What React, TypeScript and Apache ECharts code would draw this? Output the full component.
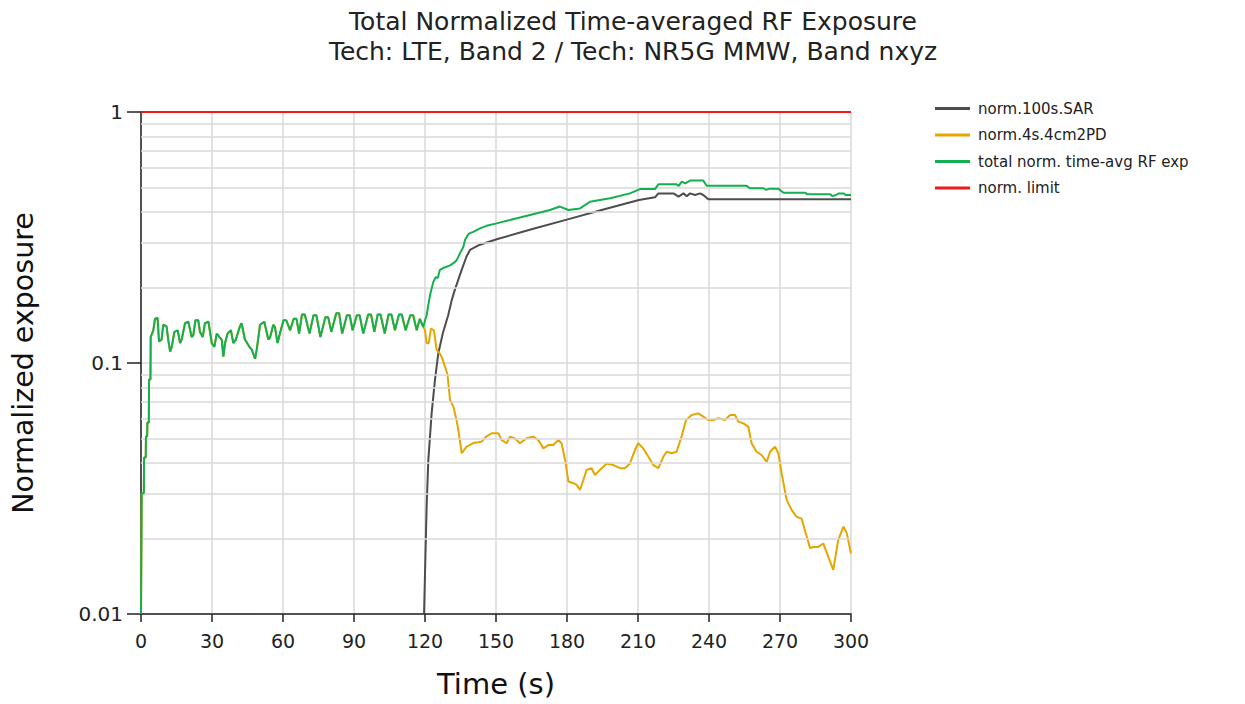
import React, { useEffect, useRef } from "react";
import * as echarts from "echarts";

const chartTitle =
  "Total Normalized Time-averaged RF Exposure\nTech: LTE, Band 2 / Tech: NR5G MMW, Band nxyz";
const xAxisTitle = "Time (s)";
const yAxisTitle = "Normalized exposure";
const seriesNames = [
  "norm.100s.SAR",
  "norm.4s.4cm2PD",
  "total norm. time-avg RF exp",
  "norm. limit",
];
const seriesColors = ["#4d4d4d", "#e5a600", "#12b04e", "#f01818"];

// norm.4s.4cm2PD
const pdTime = [
  0, 0.3, 1.2, 1.3, 2.0, 2.1, 2.6, 2.7, 3.3, 3.4, 4.0, 4.1, 5.2, 5.9, 7.0, 7.6, 8.7, 9.4, 10.8, 11.5,
  12.3, 13.0, 14.1, 15.5, 16.5, 17.2, 18.6, 20.0, 21.4, 22.1, 23.0, 24.2, 24.9, 26.1, 27.0, 28.5,
  29.9, 31.0, 32.0, 33.1, 34.1, 34.8, 35.5, 36.6, 38.0, 39.0, 40.1, 41.8, 42.5, 43.9, 45.8, 46.8,
  48.2, 48.9, 50.3, 52.1, 53.8, 54.5, 55.9, 56.6, 57.7, 58.7,
  60.2, 61.4, 63.0, 64.5, 65.7, 66.8, 68.0, 69.2, 71.2, 72.9, 74.1, 75.8, 77.9, 79.1, 80.4, 82.5,
  83.7, 85.0, 87.0, 88.2, 89.4, 91.2, 92.4, 93.9, 96.0, 97.2, 98.6, 100.0, 101.2, 103.0, 104.6,
  105.8, 107.3, 109.0, 110.2, 111.8, 113.8, 115.0, 116.5, 117.8, 119.3,
  120.0, 120.7, 121.6, 122.5, 123.8, 124.9, 126.3, 127.2, 128.4, 129.5, 130.6, 132.0, 133.2, 134.1,
  135.5, 137.6, 140.4, 143.9, 146.0, 148.2, 151.0, 152.4, 154.5, 155.9, 158.0, 160.1, 162.9, 165.8,
  167.9, 170.0, 172.1, 174.2, 176.3, 177.7, 179.2, 180.6, 182.7, 184.1, 185.5, 186.9, 188.3, 190.4,
  191.8, 193.9, 196.8, 199.6, 202.4, 204.5, 206.6, 208.7, 210.1, 212.2, 214.4, 216.5, 218.6, 220.7,
  222.1, 224.2, 226.3, 228.4, 230.3, 232.7, 235.5, 237.6, 239.7, 241.8, 244.0, 246.8, 248.9, 251.0,
  252.4, 254.5, 256.6, 258.0, 260.1, 262.2, 264.4, 265.8, 267.9, 269.3, 270.7, 272.8, 274.9, 277.0,
  279.1, 280.5, 282.7, 284.1, 286.2, 288.3, 290.4, 292.5, 294.6, 296.8, 298.2, 300,
];
const pdValue = [
  0.01, 0.0303, 0.0303, 0.042, 0.042, 0.051, 0.051, 0.058, 0.058, 0.086, 0.086, 0.127, 0.135, 0.15,
  0.151, 0.122, 0.124, 0.142, 0.14, 0.124, 0.111, 0.116, 0.133, 0.135, 0.12, 0.124, 0.144, 0.146,
  0.127, 0.129, 0.148, 0.148, 0.133, 0.127, 0.144, 0.146, 0.12, 0.116, 0.131, 0.127, 0.124, 0.106,
  0.12, 0.131, 0.135, 0.12, 0.124, 0.14, 0.144, 0.124, 0.116, 0.113, 0.104, 0.113, 0.142, 0.146,
  0.124, 0.126, 0.142, 0.139, 0.12, 0.131,
  0.148, 0.148, 0.135, 0.15, 0.15, 0.131, 0.156, 0.156, 0.131, 0.155, 0.155, 0.127, 0.152, 0.152,
  0.133, 0.158, 0.158, 0.131, 0.155, 0.155, 0.135, 0.155, 0.155, 0.131, 0.156, 0.156, 0.133, 0.156,
  0.156, 0.131, 0.156, 0.156, 0.135, 0.156, 0.156, 0.135, 0.155, 0.155, 0.135, 0.15, 0.139,
  0.135, 0.12, 0.12, 0.137, 0.135, 0.113, 0.109, 0.105, 0.097, 0.09, 0.071, 0.067, 0.06, 0.054,
  0.0437, 0.0464, 0.048, 0.0486, 0.051, 0.0525, 0.0525, 0.0493, 0.0479, 0.0509, 0.0501, 0.0479,
  0.0501, 0.0509, 0.0493, 0.0457, 0.0471, 0.0471, 0.0493, 0.0479, 0.0411, 0.0337, 0.0332, 0.0327,
  0.0312, 0.0342, 0.0375, 0.0381, 0.0358, 0.0375, 0.0398, 0.0392, 0.0381, 0.0381, 0.0398, 0.045,
  0.0479, 0.0457, 0.0423, 0.0392, 0.0381, 0.0423, 0.0443, 0.0437, 0.0443, 0.0509, 0.0593, 0.0621,
  0.063, 0.0611, 0.0593, 0.0593, 0.0602, 0.0593, 0.0621, 0.0621, 0.0584, 0.0575, 0.0558, 0.0479,
  0.0443, 0.043, 0.0404, 0.0443, 0.0464, 0.0437, 0.0363, 0.0285, 0.026, 0.0244, 0.024, 0.0216,
  0.0183, 0.0185, 0.0185, 0.0191, 0.0169, 0.015, 0.0197, 0.0223, 0.021, 0.0174,
];

// norm.100s.SAR
const sarTime = [
  119.6, 120.0, 120.7, 121.4, 122.8, 124.2, 125.6, 127.5, 129.8, 131.3, 132.7, 135.5, 137.5, 139.0,
  143.2, 150.3, 165.0, 180.3, 195.0, 210.4, 217.2, 218.6, 225.0, 227.1, 229.2, 230.6, 232.0, 234.1,
  236.2, 237.6, 239.7, 300,
];
const sarValue = [
  0.01, 0.0145, 0.027, 0.041, 0.063, 0.0855, 0.109, 0.131, 0.155, 0.178, 0.197, 0.235, 0.265, 0.282,
  0.296, 0.311, 0.341, 0.3735, 0.408, 0.446, 0.457, 0.474, 0.474, 0.46, 0.474, 0.462, 0.474, 0.467,
  0.474, 0.467, 0.449, 0.449,
];

// total norm. time-avg RF exp (after the SAR starts; before that it follows the PD trace)
const totalTime = [
  119.3, 120.0, 120.7, 121.4, 122.1, 123.5, 124.5, 125.4, 126.3, 127.7, 130.6, 132.7, 133.4, 134.8,
  136.2, 136.9, 138.3, 139.0, 140.4, 143.2, 146.0, 150.3, 155.9, 164.4, 172.8, 177.0, 180.6, 185.5,
  189.7, 198.2, 206.6, 210.8, 217.2, 218.6, 226.3, 227.2, 228.5, 230.0, 232.0, 237.6, 239.0, 255.9,
  257.3, 263.0, 264.0, 265.5, 269.4, 271.5, 280.7, 281.4, 291.3, 292.0, 293.5, 294.8, 297.0, 297.7,
  300,
];
const totalValue = [
  0.139, 0.148, 0.155, 0.17, 0.186, 0.21, 0.22, 0.218, 0.235, 0.239, 0.245, 0.253, 0.257, 0.274,
  0.29, 0.309, 0.326, 0.329, 0.333, 0.344, 0.352, 0.36, 0.371, 0.389, 0.407, 0.42, 0.407, 0.413,
  0.439, 0.453, 0.474, 0.493, 0.493, 0.515, 0.515, 0.508, 0.528, 0.52, 0.533, 0.533, 0.508, 0.508,
  0.497, 0.497, 0.49, 0.494, 0.494, 0.477, 0.477, 0.47, 0.47, 0.463, 0.466, 0.474, 0.474, 0.467,
  0.467,
];

// norm. limit
const limitTime = [0, 300];
const limitValue = [1, 1];

// minor log grid lines
const minorGridValues = [
  0.02, 0.03, 0.04, 0.05, 0.06, 0.07, 0.08, 0.09, 0.2, 0.3, 0.4, 0.5, 0.6, 0.7, 0.8, 0.9,
];

const FONT = "DejaVu Sans";
const GRID_COLOR = "#d9d9d9";

export default function App() {
  const ref = useRef<HTMLDivElement>(null);

  useEffect(() => {
    if (!ref.current) return;
    const chart = echarts.init(ref.current, null, { renderer: "svg" });

    const pair = (ts: number[], vs: number[]) => ts.map((t, i) => [t, vs[i]]);
    const pdData = pair(pdTime, pdValue);
    const sarData = pair(sarTime, sarValue);
    const totalData = [
      ...pdData.filter((p) => p[0] < totalTime[0]),
      ...pair(totalTime, totalValue),
    ];
    const limitData = pair(limitTime, limitValue);

    const lineSeries = (idx: number, data: number[][], width: number) => ({
      type: "line",
      name: seriesNames[idx],
      data,
      showSymbol: false,
      symbol: "none",
      clip: true,
      lineStyle: { color: seriesColors[idx], width },
      itemStyle: { color: seriesColors[idx] },
      z: 3 + idx,
    });

    chart.setOption({
      animation: false,
      textStyle: { fontFamily: FONT },
      title: {
        text: chartTitle,
        left: 633,
        top: 6,
        padding: 0,
        textAlign: "center",
        textStyle: {
          fontFamily: FONT,
          fontSize: 25,
          fontWeight: "normal",
          color: "#222",
          lineHeight: 30,
        },
      },
      legend: {
        data: seriesNames,
        orient: "vertical",
        left: 935,
        top: 100,
        padding: 0,
        icon: "rect",
        itemWidth: 35,
        itemHeight: 3,
        itemGap: 9.5,
        textStyle: {
          fontFamily: FONT,
          fontSize: 15,
          color: "#222",
          lineHeight: 17,
          padding: [0, 0, 0, 3],
        },
      },
      grid: {
        left: 141,
        top: 112,
        right: 394,
        bottom: 90,
        containLabel: false,
        outerBoundsMode: "none",
      },
      xAxis: {
        type: "value",
        min: 0,
        max: 300,
        interval: 30,
        name: xAxisTitle,
        nameLocation: "middle",
        nameGap: 55,
        nameTextStyle: { fontFamily: FONT, fontSize: 29, color: "#111" },
        axisLine: { show: true, lineStyle: { color: "#222", width: 1.5 } },
        axisTick: { show: true, length: 8, lineStyle: { color: "#222", width: 1.5 } },
        axisLabel: { fontFamily: FONT, fontSize: 19, color: "#222", margin: 17 },
        splitLine: { show: true, lineStyle: { color: GRID_COLOR, width: 1.5 } },
      },
      yAxis: {
        type: "log",
        logBase: 10,
        min: 0.01,
        max: 1,
        name: yAxisTitle,
        nameLocation: "middle",
        nameGap: 103,
        nameTextStyle: { fontFamily: FONT, fontSize: 28.5, color: "#111" },
        axisLine: { show: true, lineStyle: { color: "#222", width: 1.5 } },
        axisTick: { show: true, length: 14, lineStyle: { color: "#222", width: 1.5 } },
        axisLabel: {
          fontFamily: FONT,
          fontSize: 20,
          color: "#222",
          margin: 18,
          formatter: (v: number) => String(v),
        },
        splitLine: { show: true, lineStyle: { color: GRID_COLOR, width: 1.5 } },
        minorTick: { show: false },
        minorSplitLine: { show: false },
      },
      series: [
        {
          type: "line",
          name: "minor-grid",
          data: [],
          silent: true,
          z: 1,
          markLine: {
            silent: true,
            symbol: ["none", "none"],
            label: { show: false },
            lineStyle: { color: GRID_COLOR, width: 1.5, type: "solid" },
            emphasis: { disabled: true },
            data: minorGridValues.map((v) => ({ yAxis: v })),
          },
        },
        lineSeries(0, sarData, 2),
        lineSeries(1, pdData, 2),
        lineSeries(2, totalData, 2),
        lineSeries(3, limitData, 2),
      ],
    });

    return () => chart.dispose();
  }, []);

  return (
    <div
      ref={ref}
      style={{ position: "absolute", left: 0, top: 0, width: 1245, height: 704 }}
    />
  );
}
